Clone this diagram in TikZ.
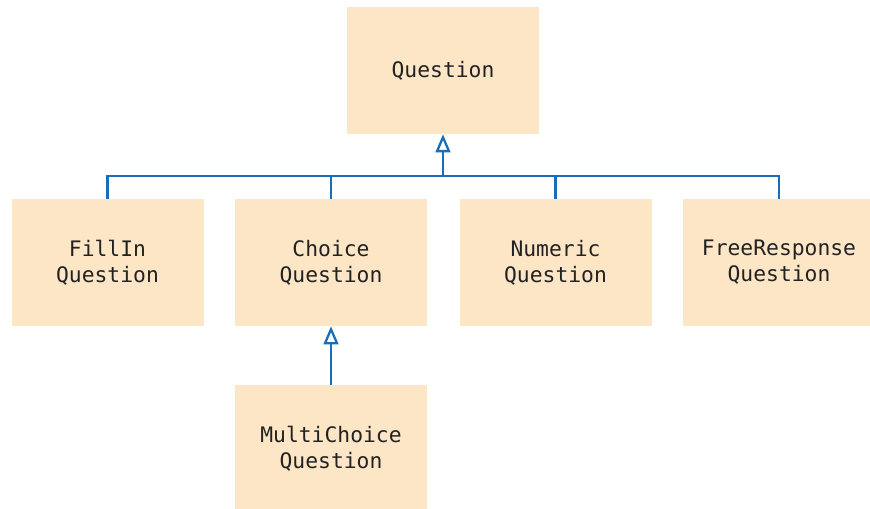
\documentclass[tikz,border=0pt]{standalone}
\usepackage{fontspec}
\newfontfamily\boxmono{DejaVu Sans Mono}
\usetikzlibrary{arrows.meta}
\definecolor{boxfill}{HTML}{FDE6C6}
\definecolor{linkblue}{HTML}{1B6DB5}
\definecolor{txt}{HTML}{222222}
\tikzset{
  classbox/.style={fill=boxfill, draw=none, minimum width=144pt, minimum height=95.25pt,
    inner sep=0pt, align=center, text=txt, font=\boxmono\fontsize{16}{19.5}\selectfont},
  conn/.style={draw=linkblue, line width=1.9pt},
  inherit/.style={conn, -{Triangle[open, length=13.5pt, width=11pt, line width=1.7pt]}}
}
\begin{document}
\begin{tikzpicture}[x=0.75pt,y=-0.75pt]
\useasboundingbox (0,0) rectangle (870,509);
\node[classbox] (q) at (443,70.5) {Question};
\node[classbox] (fill) at (107.5,262.5) {FillIn\\Question};
\node[classbox] (choice) at (331,262.5) {Choice\\Question};
\node[classbox] (num) at (555.5,262.5) {Numeric\\Question};
\node[classbox] (free) at (779,262.5) {FreeResponse\\Question};
\node[classbox] (multi) at (331,448.5) {MultiChoice\\Question};
\coordinate (bar) at (443,176);
\draw[conn] (fill.north) |- (bar) -| (free.north);
\draw[conn] (choice.north) -- (choice.north |- bar);
\draw[conn] (num.north) -- (num.north |- bar);
\draw[inherit] (bar) -- (q.south);
\draw[inherit] (multi.north) -- (choice.south);
\end{tikzpicture}
\end{document}
